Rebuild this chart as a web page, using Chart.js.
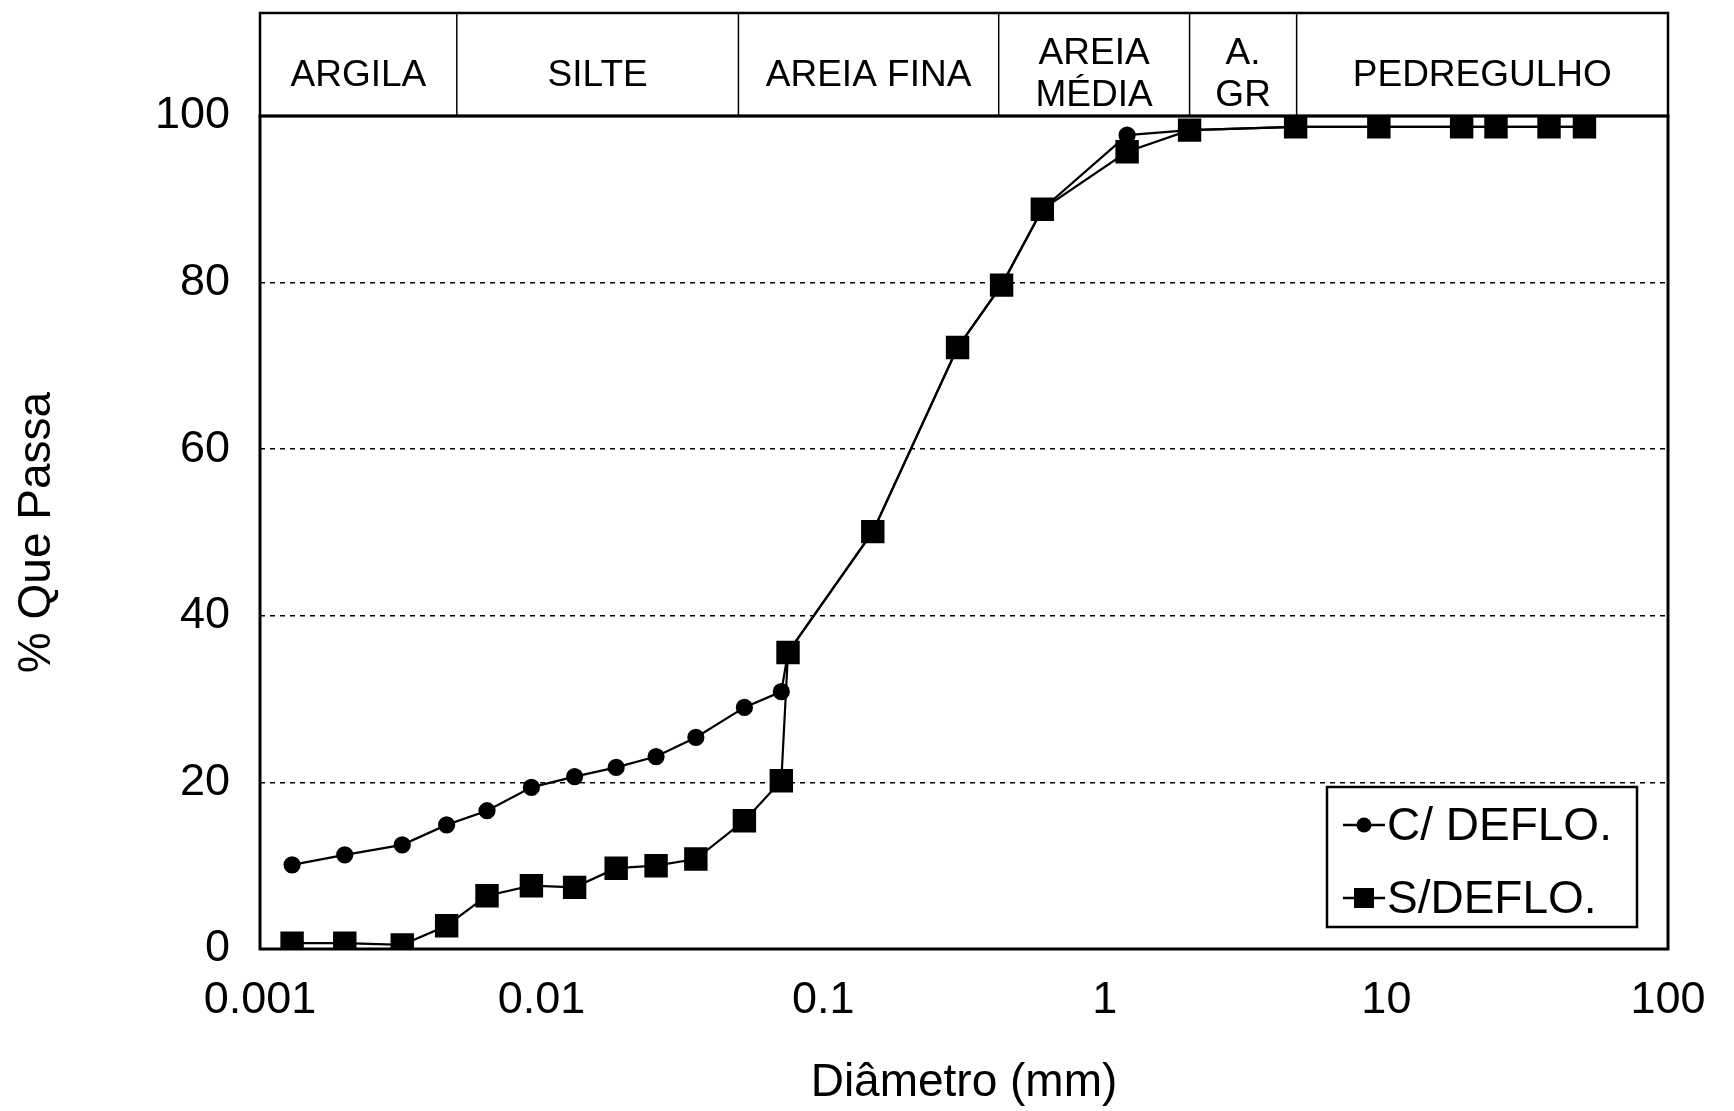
<!DOCTYPE html>
<html>
<head>
<meta charset="utf-8">
<script src="https://cdn.jsdelivr.net/npm/chart.js@4.4.1/dist/chart.umd.min.js"></script>
<style>
  html, body { margin: 0; padding: 0; background: #fff; }
  #box { width: 1734px; height: 1111px; }
</style>
</head>
<body>
<div id="box"><canvas id="granulometria"></canvas></div>
<script>
// diametros (mm) - sedimentacao + peneiramento
const diametros = [0.0013, 0.002, 0.0032, 0.0046, 0.0064, 0.0092, 0.0131, 0.0184, 0.0255, 0.0353, 0.0525, 0.071,
  0.075, 0.15, 0.3, 0.43, 0.6, 1.2, 2.0, 4.76, 9.4, 18.5, 24.5, 37.8, 50.5];
const comDefloc = [10.1, 11.3, 12.5, 14.9, 16.6, 19.4, 20.7, 21.8, 23.1, 25.4, 29.0, 30.9,
  35.6, 50.1, 72.2, 79.7, 88.8, 97.7, 98.3, 98.7, 98.7, 98.7, 98.7, 98.7, 98.7];
const semDefloc = [0.7, 0.7, 0.5, 2.8, 6.4, 7.6, 7.4, 9.7, 10.0, 10.8, 15.4, 20.2,
  35.6, 50.1, 72.2, 79.7, 88.8, 95.7, 98.3, 98.7, 98.7, 98.7, 98.7, 98.7, 98.7];
const nomesSeries = ['C/ DEFLO.', 'S/DEFLO.'];

// faixas granulometricas (limites em mm)
const limitesFaixas = [0.001, 0.005, 0.05, 0.42, 2, 4.8, 100];
const nomesFaixas = [['ARGILA'], ['SILTE'], ['AREIA FINA'], ['AREIA', 'MÉDIA'], ['A.', 'GR'], ['PEDREGULHO']];

const xTicks = [0.001, 0.01, 0.1, 1, 10, 100];
const xTickLabels = ['0.001', '0.01', '0.1', '1', '10', '100'];
const yTicks = [0, 20, 40, 60, 80, 100];

const FONTE = '"Liberation Sans", Arial, sans-serif';

document.addEventListener("DOMContentLoaded", function () {

  // moldura, faixas no topo e legenda
  const extras = {
    id: 'extras',
    afterDraw(chart) {
      const ctx = chart.ctx;
      const a = chart.chartArea;
      const xs = chart.scales.x;
      const topo = 13;
      ctx.save();
      ctx.strokeStyle = '#000';
      ctx.lineWidth = 3;
      ctx.strokeRect(a.left, a.top, a.right - a.left, a.bottom - a.top);
      ctx.lineWidth = 2.5;
      ctx.strokeRect(a.left, topo, a.right - a.left, a.top - topo);

      ctx.fillStyle = '#000';
      ctx.font = '37px ' + FONTE;
      ctx.textAlign = 'center';
      ctx.textBaseline = 'middle';
      ctx.lineWidth = 1.5;
      for (let i = 0; i < nomesFaixas.length; i++) {
        const x0 = xs.getPixelForValue(limitesFaixas[i]);
        const x1 = xs.getPixelForValue(limitesFaixas[i + 1]);
        if (i > 0) {
          ctx.beginPath();
          ctx.moveTo(x0, topo);
          ctx.lineTo(x0, a.top);
          ctx.stroke();
        }
        const linhas = nomesFaixas[i];
        const cx = (x0 + x1) / 2;
        if (linhas.length === 1) {
          ctx.fillText(linhas[0], cx, 76);
        } else {
          ctx.fillText(linhas[0], cx, 54);
          ctx.fillText(linhas[1], cx, 96);
        }
      }

      // legenda
      const lx = 1327, ly = 787, lw = 310, lh = 140;
      ctx.fillStyle = '#fff';
      ctx.fillRect(lx, ly, lw, lh);
      ctx.lineWidth = 2.5;
      ctx.strokeRect(lx, ly, lw, lh);
      chart.data.datasets.forEach(function (ds, i) {
        const y = ly + 38 + i * 73;
        ctx.strokeStyle = '#000';
        ctx.lineWidth = 2.5;
        ctx.beginPath();
        ctx.moveTo(lx + 16, y);
        ctx.lineTo(lx + 58, y);
        ctx.stroke();
        ctx.fillStyle = '#000';
        if (ds.pointStyle === 'rect') {
          ctx.fillRect(lx + 27, y - 10, 20, 20);
        } else {
          ctx.beginPath();
          ctx.arc(lx + 37, y, 7.5, 0, Math.PI * 2);
          ctx.fill();
        }
        ctx.font = '46px ' + FONTE;
        ctx.textAlign = 'left';
        ctx.fillText(ds.label, lx + 60, y + 2);
      });
      ctx.restore();
    }
  };

  const ctx = document.getElementById('granulometria').getContext('2d');

  new Chart(ctx, {
    type: 'scatter',
    data: {
      datasets: [
        {
          label: nomesSeries[0],
          data: diametros.map((d, i) => ({ x: d, y: comDefloc[i] })),
          showLine: true,
          borderColor: '#000',
          backgroundColor: '#000',
          borderWidth: 2.2,
          pointStyle: 'circle',
          pointRadius: 7.5,
          order: 1
        },
        {
          label: nomesSeries[1],
          data: diametros.map((d, i) => ({ x: d, y: semDefloc[i] })),
          showLine: true,
          borderColor: '#000',
          backgroundColor: '#000',
          borderWidth: 2.2,
          pointStyle: 'rect',
          pointRadius: 15,
          order: 0
        }
      ]
    },
    options: {
      responsive: true,
      maintainAspectRatio: false,
      animation: false,
      layout: { padding: { top: 116, right: 66, left: 0, bottom: 0 } },
      plugins: {
        legend: { display: false },
        tooltip: { enabled: false }
      },
      scales: {
        x: {
          type: 'logarithmic',
          min: 0.001,
          max: 100,
          afterBuildTicks: (s) => { s.ticks = xTicks.map(v => ({ value: v })); },
          afterFit: (s) => { s.height = 162; },
          grid: { display: false, drawTicks: false },
          border: { display: false },
          ticks: {
            padding: 25,
            color: '#000',
            font: { family: FONTE, size: 45 },
            maxRotation: 0,
            autoSkip: false,
            callback: (v) => xTickLabels[xTicks.indexOf(v)] || ''
          },
          title: {
            display: true,
            text: 'Diâmetro (mm)',
            color: '#000',
            font: { family: FONTE, size: 46 },
            padding: { top: 0, bottom: 0 }
          }
        },
        y: {
          min: 0,
          max: 100,
          afterBuildTicks: (s) => { s.ticks = yTicks.map(v => ({ value: v })); },
          afterFit: (s) => { s.width = 260; },
          grid: {
            drawTicks: false,
            color: (c) => (c.tick.value === 0 || c.tick.value === 100) ? 'rgba(0,0,0,0)' : '#000',
            lineWidth: 1.5
          },
          border: { display: false, dash: [5, 5] },
          ticks: {
            padding: 30,
            color: '#000',
            font: { family: FONTE, size: 45 }
          },
          title: {
            display: true,
            text: '% Que Passa',
            color: '#000',
            font: { family: FONTE, size: 46 },
            padding: { top: 10, bottom: 0 }
          }
        }
      }
    },
    plugins: [extras]
  });
});
</script>
</body>
</html>
